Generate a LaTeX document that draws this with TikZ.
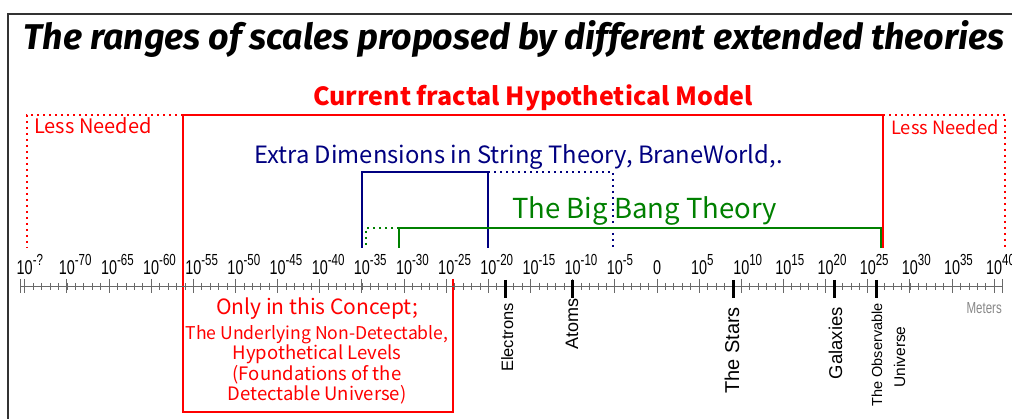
\documentclass[tikz,border=0pt]{standalone}
\usepackage{fontspec}
\setmainfont{Liberation Sans}
\newfontfamily\jpfont{Noto Sans CJK JP}
\newfontfamily\titlefont{Fira Sans}
\newfontfamily\axisfont{Liberation Sans}[FakeStretch=0.72]
\newfontfamily\tagfont{Liberation Sans}
\definecolor{fracred}{RGB}{255,0,0}
\definecolor{stringblue}{RGB}{0,0,128}
\definecolor{bangreen}{RGB}{0,128,0}
\definecolor{axisgray}{RGB}{105,105,105}
\tikzset{
  bracket/.style={line width=2pt},
  dotbracket/.style={line width=2pt, dash pattern=on 2pt off 4pt},
  minortick/.style={axisgray, line width=0.8pt},
  majortick/.style={axisgray, line width=1pt},
  marker/.style={line width=3pt},
  objlabel/.style={rotate=90, anchor=base east, inner sep=0pt},
  ticklabel/.style={anchor=base, inner sep=0pt, font=\axisfont\fontsize{20}{20}\selectfont},
}
\newcommand{\expo}[1]{\rlap{\raisebox{9pt}{\fontsize{16}{16}\selectfont #1}}}
\begin{document}
\begin{tikzpicture}[x=1pt, y=-1pt]
\useasboundingbox (0,0) rectangle (1012,419);
\draw[black!80, line width=1.5pt] (8,419) -- (8,14) -- (1012,14);

\node[anchor=base, inner sep=0pt, font=\titlefont\bfseries\itshape\fontsize{35.8}{36}\selectfont] (title) at (514,50) {The ranges of scales proposed by different extended theories};

% fractal model
\node[fracred, anchor=base, inner sep=0pt, font=\jpfont\bfseries\fontsize{25}{25}\selectfont] (model) at (533,106) {Current fractal Hypothetical Model};
\draw[fracred, bracket] (453,279) -- (453,412) -- (183,412) -- (183,115) -- (883,115) -- (883,248);
\draw[fracred, dotbracket] (183,115) -- (27,115) -- (27,248);
\draw[fracred, dotbracket] (883,115) -- (1005,115) -- (1005,248);
\node[fracred, anchor=base west, inner sep=0pt, font=\jpfont\fontsize{20}{20}\selectfont] (lessL) at (34,134) {Less Needed};
\node[fracred, anchor=base west, inner sep=0pt, font=\jpfont\fontsize{18.3}{18.3}\selectfont] (lessR) at (891,135) {Less Needed};
\node[fracred, anchor=base, inner sep=0pt, font=\jpfont\fontsize{21}{21}\selectfont] (only) at (317,315) {Only in this Concept;};
\node[fracred, anchor=north, inner sep=0pt, align=center, font=\jpfont\fontsize{18.5}{20.5}\selectfont] (levels) at (317,325) {{\fontsize{17.6}{20.5}\selectfont The Underlying Non-Detectable,}\\Hypothetical Levels\\(Foundations of the\\Detectable Universe)};

% string theory
\node[stringblue, anchor=base west, inner sep=0pt, font=\jpfont\fontsize{23.8}{24}\selectfont] (string) at (254,164) {Extra Dimensions in String Theory, BraneWorld,.};
\draw[stringblue, bracket] (362,248) -- (362,172) -- (488,172) -- (488,248);
\draw[stringblue, dotbracket] (488,172) -- (613,172) -- (613,248);

% big bang
\node[bangreen, anchor=base west, inner sep=0pt, font=\jpfont\fontsize{27.5}{28}\selectfont] (bang) at (512,219) {The Big Bang Theory};
\draw[bangreen, bracket] (399,248) -- (399,228) -- (881,228) -- (881,248);
\draw[bangreen, dotbracket] (399,228) -- (366,228) -- (366,248);

% axis
\draw[axisgray, line width=1.2pt] (20.5,286.5) -- (1002,286.5);
\draw[majortick] (20.5,279) -- (20.5,293);
\draw[majortick] (1002,279) -- (1002,293);
\foreach \e in {-75,...,40}
  \draw[minortick] ({657+8.43*\e},283) -- ({657+8.43*\e},290);
\foreach \e in {-75,-70,...,40}{
  \draw[majortick] ({657+8.43*\e},279) -- ({657+8.43*\e},293);
  \ifnum\e=0 \def\lbl{0}\else
    \ifnum\e=-75 \def\lbl{10\expo{-?}}\else \def\lbl{10\expo{\e}}\fi
  \fi
  \node[ticklabel] (t\e) at ({657+8.43*\e},275) {\lbl};
}
\node[axisgray!80, anchor=base east, inner sep=0pt, font=\axisfont\fontsize{16}{16}\selectfont] (meters) at (1002,314) {Meters};

% objects
\draw[marker] (505,280) -- (505,298);
\draw[marker] (572,280) -- (572,298);
\draw[marker] (733,280) -- (733,298);
\draw[marker] (834,280) -- (834,298);
\draw[marker] (876,280) -- (876,298);
\node[objlabel, font=\tagfont\fontsize{16.5}{16.5}\selectfont] (electrons) at (513,303) {Electrons};
\node[objlabel, font=\tagfont\fontsize{18}{18}\selectfont] (atoms) at (578,298) {Atoms};
\node[objlabel, font=\tagfont\fontsize{20}{20}\selectfont] (stars) at (739,307) {The Stars};
\node[objlabel, font=\tagfont\fontsize{18.5}{18.5}\selectfont] (galaxies) at (842,307) {Galaxies};
\node[objlabel, font=\tagfont\fontsize{14.5}{14.5}\selectfont] (observable) at (882,303) {The Observable};
\node[rotate=90, anchor=base, inner sep=0pt, font=\tagfont\fontsize{15.5}{15.5}\selectfont] (universe) at (905,357) {Universe};
\end{tikzpicture}
\end{document}
